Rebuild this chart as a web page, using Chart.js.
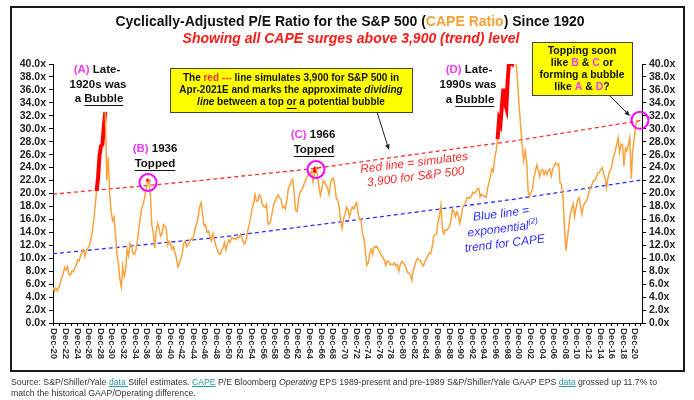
<!DOCTYPE html>
<html>
<head>
<meta charset="utf-8">
<script src="https://cdn.jsdelivr.net/npm/chart.js@4.4.1/dist/chart.umd.min.js"></script>
<style>
  body { margin: 0; background: #fff; }
  #wrap { position: relative; width: 694px; height: 400px; }
  #chartCAPE { position: absolute; left: 0; top: 0; }
  #note {
    position: absolute; left: 11px; top: 377px; width: 683px;
    font: 8.7px "Liberation Sans", Arial, sans-serif; line-height: 11px;
    color: #333; white-space: nowrap;
  }
  #note u { color: #2a9d9d; }
</style>
</head>
<body>
<div id="wrap">
  <canvas id="chartCAPE" width="694" height="400"></canvas>
  <div id="note">Source: S&amp;P/Shiller/Yale <u>data </u>Stifel estimates. <u>CAPE</u> P/E Bloomberg <i>Operating</i> EPS 1989-present and pre-1989 S&amp;P/Shiller/Yale GAAP EPS <u>data</u> grossed up 11.7% to<br>match the historical GAAP/Operating difference.</div>
</div>
<script>
// CAPE ratio, quarterly, first point Oct-1920
const capeStart = 1920.75;
const capeStep = 0.25;
const capeValues = [
  5.5,
  4.9, 5.4, 5.0, 5.5,      // 1921
  6.2, 7.0, 7.6, 8.6,      // 1922
  8.2, 8.7, 7.5, 7.4,      // 1923
  8.0, 7.9, 8.6, 8.9,      // 1924
  9.8, 9.6, 10.4, 11.0,    // 1925
  11.3, 10.3, 11.2, 11.6,  // 1926
  11.8, 12.9, 13.9, 15.8,  // 1927
  18.0, 20.4, 22.4, 25.8,  // 1928
  27.3, 27.6, 30.4, 32.6,  // 1929
  22.0, 25.6, 20.0, 17.2,  // 1930
  15.8, 16.4, 13.8, 10.6,  // 1931
  9.2, 6.8, 5.6, 8.8,      // 1932
  7.2, 8.2, 11.4, 10.4,    // 1933
  12.3, 12.0, 10.8, 10.6,  // 1934
  11.2, 12.6, 14.4, 16.2,  // 1935
  17.6, 18.4, 19.2, 20.6,  // 1936
  21.8, 22.2, 19.8, 15.2,  // 1937
  14.0, 11.6, 14.2, 15.4,  // 1938
  14.6, 13.4, 13.8, 15.2,  // 1939
  15.0, 14.4, 12.0, 12.6,  // 1940
  12.2, 11.4, 11.8, 10.8,  // 1941
  10.0, 8.7, 9.2, 9.9,     // 1942
  10.8, 12.3, 12.6, 11.8,  // 1943
  12.1, 12.5, 13.0, 12.8,  // 1944
  13.6, 14.8, 15.4, 16.6,  // 1945
  18.0, 18.6, 16.6, 15.0,  // 1946
  15.2, 14.0, 14.2, 13.4,  // 1947
  12.7, 13.8, 13.0, 12.0,  // 1948
  11.4, 10.8, 10.6, 11.2,  // 1949
  11.6, 12.4, 11.3, 12.2,  // 1950
  12.8, 12.5, 13.2, 13.0,  // 1951
  13.1, 12.9, 13.3, 13.2,  // 1952
  13.7, 13.2, 12.5, 12.2,  // 1953
  12.9, 14.2, 15.2, 16.2,  // 1954
  17.6, 18.4, 19.8, 18.8,  // 1955
  18.9, 19.8, 19.4, 18.4,  // 1956
  18.0, 17.8, 18.3, 15.3,  // 1957
  15.3, 16.0, 17.2, 18.4,  // 1958
  18.9, 19.4, 19.8, 19.3,  // 1959
  19.1, 17.8, 18.0, 17.6,  // 1960
  19.0, 20.8, 21.2, 21.9,  // 1961
  22.2, 20.0, 17.4, 17.2,  // 1962
  19.2, 20.2, 20.5, 20.9,  // 1963
  21.6, 22.2, 22.6, 22.9,  // 1964
  23.1, 23.4, 21.8, 23.2,  // 1965
  24.1, 23.0, 21.0, 19.7,  // 1966
  20.6, 22.0, 21.7, 21.3,  // 1967
  20.8, 19.9, 21.6, 22.3,  // 1968
  22.4, 21.2, 19.2, 19.0,  // 1969
  17.9, 15.5, 14.6, 16.1,  // 1970
  16.8, 17.9, 17.6, 16.4,  // 1971
  17.3, 17.9, 17.6, 18.2,  // 1972
  18.6, 16.8, 15.9, 16.0,  // 1973
  13.8, 13.0, 11.2, 8.9,   // 1974
  9.3, 10.8, 11.4, 10.6,   // 1975
  11.8, 11.7, 11.8, 11.3,  // 1976
  11.0, 10.4, 10.2, 9.7,   // 1977
  8.9, 9.6, 9.5, 9.0,      // 1978
  9.1, 9.0, 9.3, 8.8,      // 1979
  9.0, 8.0, 9.0, 9.5,      // 1980
  9.3, 9.0, 8.5, 7.8,      // 1981
  7.7, 7.4, 6.6, 8.2,      // 1982
  8.8, 9.6, 10.0, 9.7,     // 1983
  9.6, 9.0, 8.8, 9.5,      // 1984
  9.9, 10.4, 10.8, 10.7,   // 1985
  11.8, 13.4, 13.6, 13.8,  // 1986
  15.6, 16.6, 18.2, 14.6,  // 1987
  13.8, 14.4, 14.3, 14.6,  // 1988
  15.0, 16.0, 17.6, 17.2,  // 1989
  16.4, 17.2, 16.6, 15.4,  // 1990
  16.4, 17.9, 18.2, 18.6,  // 1991
  19.4, 19.3, 19.3, 19.6,  // 1992
  20.2, 20.0, 20.3, 20.7,  // 1993
  20.8, 19.5, 19.9, 19.6,  // 1994
  19.6, 19.4, 20.6, 21.6,  // 1995
  22.6, 23.8, 23.4, 25.4,  // 1996
  26.6, 28.4, 31.4, 30.8,  // 1997
  33.6, 36.2, 34.0, 33.2,  // 1998
  37.6, 40.6, 40.2, 40.0,  // 1999
  41.0, 40.6, 39.6, 36.4,  // 2000
  33.0, 30.0, 27.2, 25.0,  // 2001
  26.6, 25.0, 20.4, 19.6,  // 2002
  20.2, 20.6, 22.4, 23.4,  // 2003
  24.4, 23.6, 22.6, 23.6,  // 2004
  23.7, 22.9, 23.5, 22.9,  // 2005
  23.6, 23.8, 22.7, 23.8,  // 2006
  24.3, 24.7, 24.4, 24.6,  // 2007
  21.6, 21.4, 19.6, 15.0,  // 2008
  11.2, 13.0, 14.8, 16.7,  // 2009
  17.6, 18.4, 16.4, 17.8,  // 2010
  18.9, 19.4, 18.2, 16.8,  // 2011
  18.0, 18.5, 18.8, 19.3,  // 2012
  20.3, 21.0, 21.4, 22.0,  // 2013
  22.0, 22.6, 23.2, 23.2,  // 2014
  23.7, 24.0, 23.0, 22.4,  // 2015
  20.9, 22.4, 23.4, 23.6,  // 2016
  24.8, 25.8, 26.6, 27.6,  // 2017
  28.6, 26.4, 27.6, 27.6,  // 2018
  24.2, 27.0, 26.6, 27.5,  // 2019
  28.6, 22.3, 26.6, 28.4,  // 2020
  30.4, 31.3               // 2021
];

// periods drawn as thick red "surges"
const surgePeriods = [[1928.25, 1929.75], [1937.0, 1937.25], [1965.75, 1966.0], [1997.25, 2000.25]];

// red dashed line (3,900 on S&P 500) and blue dashed exponential trend
const redTrendYears = [1920.75, 1945, 1966, 1985, 2000, 2022.1];
const redTrendValues = [19.9, 21.9, 23.9, 26.3, 28.1, 31.3];
const blueTrendYears = [1920.75, 1950, 1977, 2000, 2022.1];
const blueTrendValues = [10.7, 13.3, 16.4, 19.1, 22.1];

// magenta rings: (B) 1936, (C) 1966, today
const ringYears = [1937.1, 1966.0, 2021.75];
const ringValues = [21.7, 23.7, 31.3];

const xLabels = ['Dec-20', 'Dec-22', 'Dec-24', 'Dec-26', 'Dec-28', 'Dec-30', 'Dec-32', 'Dec-34',
  'Dec-36', 'Dec-38', 'Dec-40', 'Dec-42', 'Dec-44', 'Dec-46', 'Dec-48', 'Dec-50', 'Dec-52',
  'Dec-54', 'Dec-56', 'Dec-58', 'Dec-60', 'Dec-62', 'Dec-64', 'Dec-66', 'Dec-68', 'Dec-70',
  'Dec-72', 'Dec-74', 'Dec-76', 'Dec-78', 'Dec-80', 'Dec-82', 'Dec-84', 'Dec-86', 'Dec-88',
  'Dec-90', 'Dec-92', 'Dec-94', 'Dec-96', 'Dec-98', 'Dec-00', 'Dec-02', 'Dec-04', 'Dec-06',
  'Dec-08', 'Dec-10', 'Dec-12', 'Dec-14', 'Dec-16', 'Dec-18', 'Dec-20'];
const firstLabelYear = 1920;

const X_MIN = 1920.75;
const X_MAX = 2022.1;
const DEC = 11 / 12;

const FAM = '"Liberation Sans", Arial, Helvetica, sans-serif';
const MAG = '#f03cf0';
const BLK = '#111';
const f = (style, size) => `${style} ${size}px ${FAM}`;

const capePoints = capeValues.map((v, i) => ({ x: capeStart + i * capeStep, y: v }));
const redTrend = redTrendYears.map((x, i) => ({ x, y: redTrendValues[i] }));
const blueTrend = blueTrendYears.map((x, i) => ({ x, y: blueTrendValues[i] }));
const rings = ringYears.map((x, i) => ({ x, y: ringValues[i] }));

const inSurge = (a, b) => surgePeriods.some(([s, e]) => a >= s - 0.01 && b <= e + 0.01);

const yearTicks = [];
for (let yr = firstLabelYear; yr + DEC <= X_MAX; yr++) yearTicks.push(yr + DEC);

// one line of mixed-style text centred on cx: parts = [text, colour, font, underline, dy]
function richLine(ctx, parts, cx, y) {
  let total = 0;
  parts.forEach(p => { ctx.font = p[2]; total += ctx.measureText(p[0]).width; });
  let x = cx - total / 2;
  parts.forEach(p => {
    ctx.font = p[2];
    ctx.fillStyle = p[1];
    const w = ctx.measureText(p[0]).width;
    ctx.fillText(p[0], x, y + (p[4] || 0));
    if (p[3]) ctx.fillRect(x, y + 6, w, 1);
    x += w;
  });
}

function yellowBox(ctx, x, y, w, h) {
  ctx.fillStyle = '#ffff00';
  ctx.fillRect(x, y, w, h);
  ctx.strokeStyle = '#444';
  ctx.lineWidth = 1;
  ctx.strokeRect(x + 0.5, y + 0.5, w, h);
}

function arrow(ctx, x1, y1, x2, y2) {
  const ang = Math.atan2(y2 - y1, x2 - x1);
  ctx.strokeStyle = '#222';
  ctx.fillStyle = '#222';
  ctx.lineWidth = 1;
  ctx.beginPath();
  ctx.moveTo(x1, y1);
  ctx.lineTo(x2 - 4 * Math.cos(ang), y2 - 4 * Math.sin(ang));
  ctx.stroke();
  ctx.beginPath();
  ctx.moveTo(x2, y2);
  ctx.lineTo(x2 - 6 * Math.cos(ang - 0.4), y2 - 6 * Math.sin(ang - 0.4));
  ctx.lineTo(x2 - 6 * Math.cos(ang + 0.4), y2 - 6 * Math.sin(ang + 0.4));
  ctx.closePath();
  ctx.fill();
}

const decor = {
  id: 'decor',
  beforeDraw(chart) {
    const ctx = chart.ctx;
    ctx.save();
    ctx.fillStyle = '#fff';
    ctx.fillRect(0, 0, chart.width, chart.height);
    ctx.restore();
  },
  afterDraw(chart) {
    const ctx = chart.ctx;
    const xs = chart.scales.x;
    ctx.save();
    ctx.textBaseline = 'middle';
    ctx.textAlign = 'left';

    // x tick labels, reading top to bottom
    ctx.font = f('bold', 9.5);
    ctx.fillStyle = '#333';
    xLabels.forEach((lab, i) => {
      const px = xs.getPixelForValue(firstLabelYear + 2 * i + DEC);
      ctx.save();
      ctx.translate(px, xs.top + 5);
      ctx.rotate(Math.PI / 2);
      ctx.fillText(lab, 0, 0);
      ctx.restore();
    });

    // frame
    ctx.strokeStyle = '#1a1a1a';
    ctx.lineWidth = 2;
    ctx.strokeRect(11, 7, 673, 364);

    // titles
    const tf = f('bold', 14);
    richLine(ctx, [['Cyclically-Adjusted P/E Ratio for the S&P 500 (', BLK, tf], ['CAPE Ratio', '#f7a035', tf], [') Since 1920', BLK, tf]], 350, 22);
    richLine(ctx, [['Showing all CAPE surges above 3,900 (trend) level', '#ff1a1a', f('italic bold', 14)]], 351, 39);

    // episode labels
    const af = f('bold', 11.5);
    richLine(ctx, [['(A)', MAG, af], [' Late-', BLK, af]], 97, 70);
    richLine(ctx, [['1920s was', BLK, af]], 98, 85);
    richLine(ctx, [['a ', BLK, af], ['Bubble', BLK, af, true]], 99, 99);
    richLine(ctx, [['(B)', MAG, af], [' 1936', BLK, af]], 155, 149);
    richLine(ctx, [['Topped', BLK, af, true]], 155, 164);
    richLine(ctx, [['(C)', MAG, af], [' 1966', BLK, af]], 313, 135);
    richLine(ctx, [['Topped', BLK, af, true]], 314, 150);
    richLine(ctx, [['(D)', MAG, af], [' Late-', BLK, af]], 469, 70);
    richLine(ctx, [['1990s was', BLK, af]], 468, 85);
    richLine(ctx, [['a ', BLK, af], ['Bubble', BLK, af, true]], 470, 100);

    // middle note
    const bf = f('bold', 10);
    const bif = f('italic bold', 10);
    yellowBox(ctx, 170, 68, 242, 44);
    richLine(ctx, [['The ', BLK, bf], ['red ---', '#ff2a2a', bf], [' line simulates 3,900 for S&P 500 in', BLK, bf]], 291, 78);
    richLine(ctx, [['Apr-2021E and marks the approximate ', BLK, bf], ['dividing', BLK, bif]], 291, 90);
    richLine(ctx, [['line', BLK, bif], [' between a top ', BLK, bf], ['or', BLK, bf, true], [' a potential bubble', BLK, bf]], 291, 102);
    arrow(ctx, 377, 112, 389, 150);

    // top-right note
    const rf = f('bold', 10.5);
    yellowBox(ctx, 532, 42, 100, 53);
    richLine(ctx, [['Topping soon', BLK, rf]], 582, 51);
    richLine(ctx, [['like ', BLK, rf], ['B', MAG, rf], [' & ', BLK, rf], ['C', MAG, rf], [' or', BLK, rf]], 582, 63);
    richLine(ctx, [['forming a bubble', BLK, rf]], 582, 75);
    richLine(ctx, [['like ', BLK, rf], ['A', MAG, rf], [' & ', BLK, rf], ['D', MAG, rf], ['?', BLK, rf]], 582, 87);
    arrow(ctx, 610, 96, 630, 116);

    // line captions
    const itf = f('italic', 12);
    ctx.save();
    ctx.translate(415, 170);
    ctx.rotate(-7 * Math.PI / 180);
    richLine(ctx, [['Red line = simulates', '#ff2a2a', itf]], 0, -7);
    richLine(ctx, [['3,900 for S&P 500', '#ff2a2a', itf]], 0, 7);
    ctx.restore();

    ctx.save();
    ctx.translate(503, 229);
    ctx.rotate(-7 * Math.PI / 180);
    richLine(ctx, [['Blue line =', '#2f2fff', itf]], 0, -15);
    richLine(ctx, [['exponential', '#2f2fff', itf], ['(2)', '#2f2fff', f('italic', 8), false, -4]], 0, 0);
    richLine(ctx, [['trend for CAPE', '#2f2fff', itf]], 0, 15);
    ctx.restore();

    ctx.restore();
  }
};

const yAxis = (position, width) => ({
  position,
  min: 0,
  max: 40,
  ticks: {
    stepSize: 2,
    autoSkip: false,
    padding: 3,
    color: '#222',
    font: { family: FAM, size: 10.5, weight: 'bold' },
    callback: v => v.toFixed(1) + 'x'
  },
  grid: { drawOnChartArea: false, tickLength: 4, color: '#000' },
  border: { color: '#000', width: 1 },
  afterFit: s => { s.width = width; }
});

const ctx = document.getElementById('chartCAPE').getContext('2d');
const capeChart = new Chart(ctx, {
  type: 'line',
  data: {
    datasets: [
      {
        type: 'scatter',
        label: 'Rings',
        data: rings,
        pointRadius: 8.5,
        pointBorderWidth: 2,
        pointBorderColor: '#ff00ff',
        pointBackgroundColor: 'rgba(0,0,0,0)',
        showLine: false,
        clip: false
      },
      {
        label: 'CAPE',
        data: capePoints,
        borderColor: '#f8a23c',
        borderWidth: 1.5,
        pointRadius: 0,
        tension: 0,
        segment: {
          borderColor: c => inSurge(c.p0.parsed.x, c.p1.parsed.x) ? '#ff0000' : undefined,
          borderWidth: c => inSurge(c.p0.parsed.x, c.p1.parsed.x) ? 4 : undefined
        }
      },
      {
        label: 'Red line',
        data: redTrend,
        borderColor: '#ff3030',
        borderWidth: 1.3,
        borderDash: [4, 3],
        pointRadius: 0
      },
      {
        label: 'Blue line',
        data: blueTrend,
        borderColor: '#3030ff',
        borderWidth: 1.3,
        borderDash: [4, 3],
        pointRadius: 0
      }
    ]
  },
  options: {
    responsive: false,
    devicePixelRatio: 1,
    animation: false,
    layout: { padding: { top: 64, left: 0, right: 0, bottom: 0 } },
    plugins: {
      legend: { display: false },
      tooltip: { enabled: false }
    },
    scales: {
      x: {
        type: 'linear',
        min: X_MIN,
        max: X_MAX,
        afterBuildTicks: s => { s.ticks = yearTicks.map(v => ({ value: v })); },
        ticks: { display: false },
        grid: { drawOnChartArea: false, tickLength: 3, color: '#000' },
        border: { color: '#000', width: 1 },
        afterFit: s => { s.height = 77; }
      },
      y: yAxis('left', 53),
      y2: yAxis('right', 52)
    }
  },
  plugins: [decor]
});
</script>
</body>
</html>
